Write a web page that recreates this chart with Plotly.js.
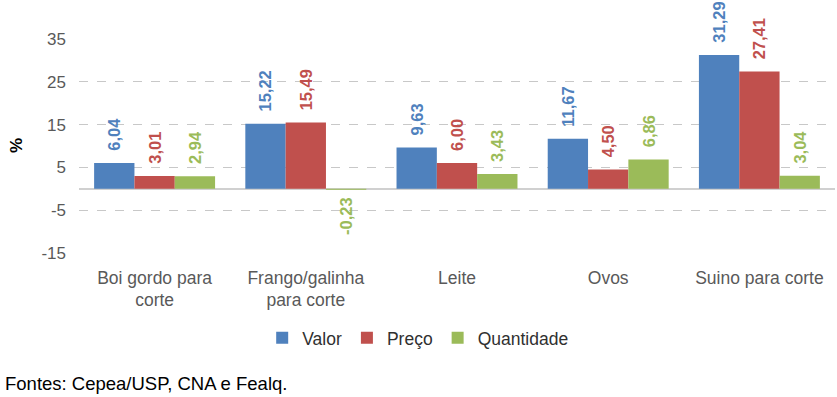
<!DOCTYPE html>
<html>
<head>
<meta charset="utf-8">
<script src="https://cdn.plot.ly/plotly-3.0.1.min.js"></script>
<style>html,body{margin:0;padding:0;background:#fff;}#chart{width:837px;height:397px;}</style>
</head>
<body>
<div id="chart"></div>
<script>
var categories = ["Boi gordo para<br>corte", "Frango/galinha<br>para corte", "Leite", "Ovos", "Suino para corte"];
var valor = [6.04, 15.22, 9.63, 11.67, 31.29];
var preco = [3.01, 15.49, 6.00, 4.50, 27.41];
var quantidade = [2.94, -0.23, 3.43, 6.86, 3.04];
var seriesNames = ["Valor", "Preço", "Quantidade"];
var colors = ["#4F81BD", "#C0504D", "#9BBB59"];
var tickVals = [-15, -5, 5, 15, 25, 35];
var tickText = ["-15", "-5", "5", "15", "25", "35"];
var sourceText = "Fontes: Cepea/USP, CNA e Fealq.";

var FONT = "'Liberation Sans', sans-serif";
var pad = "\u00a0\u00a0";
function lab(v){
  var s = v.toFixed(2).replace('.', ',');
  return v >= 0 ? pad + s : s + "\u00a0";
}
var data = [valor, preco, quantidade].map(function(vals, i){
  return {
    type: 'bar', name: seriesNames[i], x: categories, y: vals,
    marker: {color: colors[i]},
    text: vals.map(lab), textposition: 'outside', textangle: -90,
    constraintext: 'none',
    textfont: {family: FONT, size: 16.5, color: colors[i], weight: 'bold'},
    cliponaxis: false
  };
});
var layout = {
  width: 837, height: 397,
  margin: {l: 79, r: 2, t: 39, b: 144},
  paper_bgcolor: '#fff', plot_bgcolor: '#fff',
  barmode: 'group', bargap: 0.2, bargroupgap: 0,
  font: {family: FONT, color: '#595959', size: 16},
  xaxis: {showgrid: false, showline: false, ticks: '', ticklabelstandoff: 12, tickfont: {size: 17.5, color: '#595959'}},
  yaxis: {range: [-15, 35], tickvals: tickVals, ticktext: tickText, showgrid: true, gridcolor: '#c8c8c8', griddash: 'dash', gridwidth: 1,
          zeroline: true, zerolinecolor: '#d0d0d0', zerolinewidth: 1.5, showline: false, ticks: '',
          ticklabelstandoff: 12, tickfont: {size: 17, color: '#595959'}},
  showlegend: true,
  legend: {orientation: 'h', x: 0.448, xanchor: 'center', y: -0.397, yanchor: 'middle',
           font: {size: 17.5, color: '#303030'}, itemwidth: 30, tracegroupgap: 0},
  annotations: [
    {text: '%', xref: 'paper', yref: 'paper', x: (16-79)/756, y: (253-146)/214, showarrow: false, textangle: -90,
     font: {size: 17, color: '#000', weight: 'bold'}, xanchor: 'center', yanchor: 'middle'},
    {text: sourceText, xref: 'paper', yref: 'paper', x: (3-79)/756, y: (253-383)/214, showarrow: false,
     xanchor: 'left', yanchor: 'middle', font: {size: 18.5, color: '#000'}}
  ]
};
Plotly.newPlot('chart', data, layout, {displayModeBar: false, staticPlot: true});
</script>
</body>
</html>
